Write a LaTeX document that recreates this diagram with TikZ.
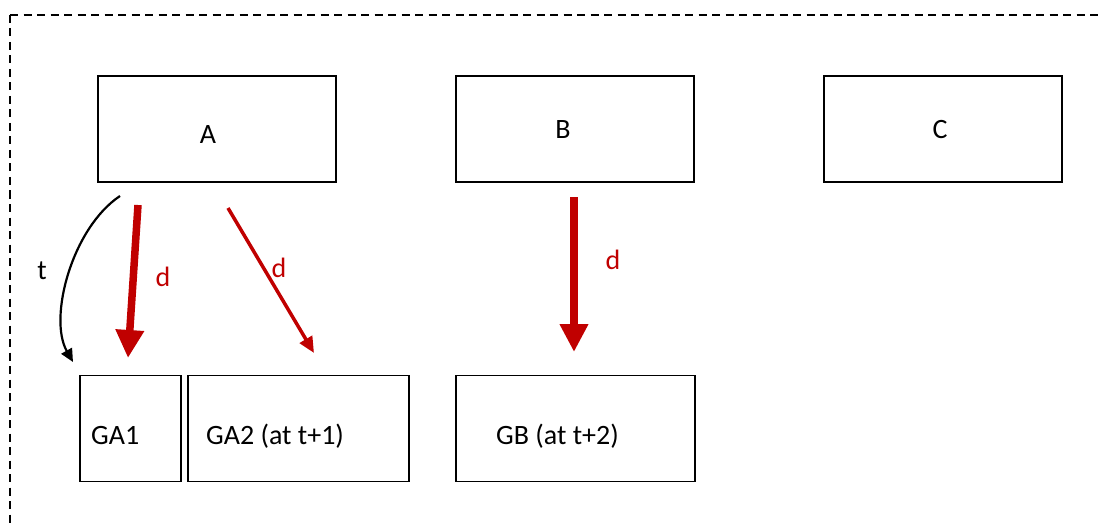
\documentclass[tikz,border=0pt]{standalone}
\usepackage{fontspec}
\setmainfont{Carlito}
\usetikzlibrary{arrows.meta}
\definecolor{dred}{HTML}{C00000}
\begin{document}
\begin{tikzpicture}[x=1pt,y=-1pt,
  box/.style={draw,line width=1.8pt,minimum width=#1,minimum height=106pt,inner sep=0pt,outer sep=0pt},
  box/.default=238pt,
  lbl/.style={font=\fontsize{28}{32}\selectfont,inner sep=0pt},
  redlbl/.style={lbl,text=dred},
  thickred/.style={dred,line width=7.5pt,-{Triangle[width=27pt,length=28pt]}},
  thinred/.style={dred,line width=3.5pt,-{Triangle[width=14pt,length=16pt]}},
  blk/.style={black,line width=2.2pt,-{Triangle[width=12pt,length=13pt]}}]
\useasboundingbox (0,0) rectangle (1098,524);
\draw[line width=2pt,dash pattern=on 8pt off 5.5pt] (10,15) -- (1120,15) (10,15) -- (10,540);
\node[box] (A) at (217,129) {};
\node[lbl] (Atxt) at (208,135) {A};
\node[box] (B) at (575,129) {};
\node[lbl] (Btxt) at (563,130) {B};
\node[box] (C) at (943,129) {};
\node[lbl] (Ctxt) at (940,130) {C};
\node[box=101pt] (GA1) at (130.5,428.5) {};
\node[lbl,anchor=west] (GA1txt) at (91,436) {GA1};
\node[box=221pt] (GA2) at (298.5,428.5) {};
\node[lbl,anchor=west] (GA2txt) at (206,436) {GA2 (at t+1)};
\node[box=239pt] (GB) at (575.5,428.5) {};
\node[lbl,anchor=west] (GBtxt) at (496,436) {GB (at t+2)};
\coordinate (ts) at (120,196);
\coordinate (te) at (73,362);
\coordinate (d1s) at (138,205);
\coordinate (d1e) at (128,358);
\coordinate (d2s) at (228,208);
\coordinate (d2e) at (314,353);
\coordinate (d3s) at (574,197);
\coordinate (d3e) at (574,352);
\draw[blk] (ts) .. controls (72,228) and (48,318) .. (te);
\draw[thickred] (d1s) -- (d1e);
\draw[thinred] (d2s) -- (d2e);
\draw[thickred] (d3s) -- (d3e);
\node[lbl] (tl) at (42,271) {t};
\node[redlbl] (dl1) at (163,277) {d};
\node[redlbl] (dl2) at (279,268) {d};
\node[redlbl] (dl3) at (613,260) {d};
\end{tikzpicture}
\end{document}
